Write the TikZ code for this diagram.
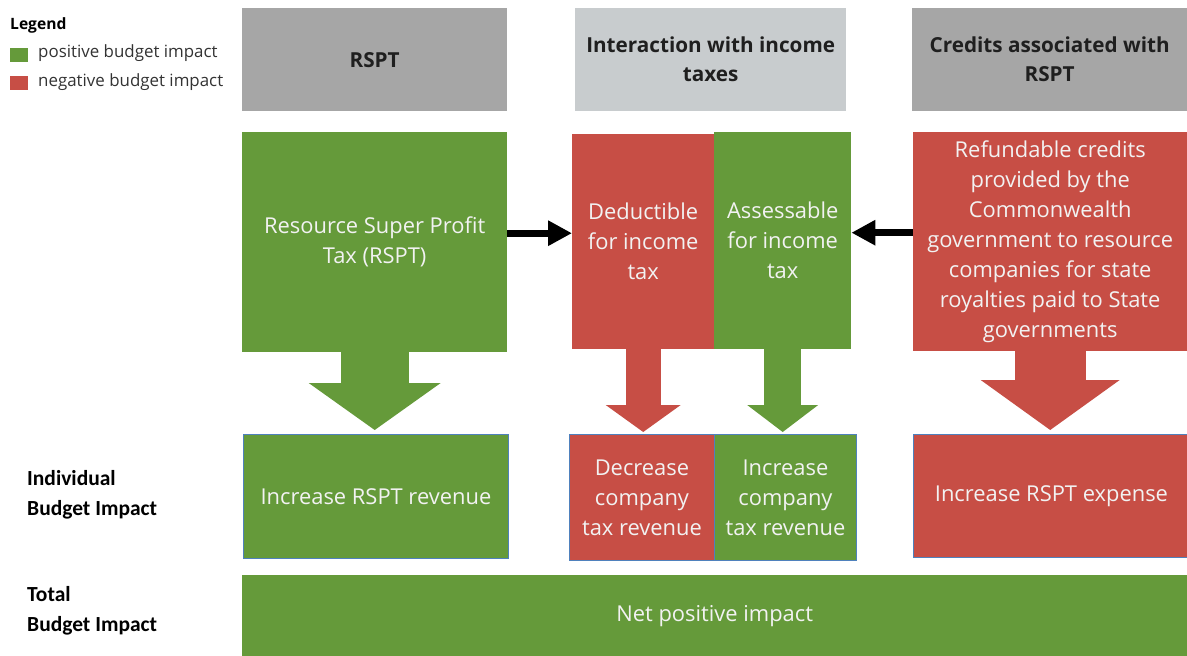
\documentclass[tikz,border=0pt]{standalone}
\usepackage{fontspec}
\setmainfont{Carlito}
\newfontfamily\boxfont{Open Sans}
\usetikzlibrary{arrows.meta}
\definecolor{posgreen}{HTML}{659A3A}
\definecolor{negred}{HTML}{C74E45}
\definecolor{headgray}{HTML}{A6A6A6}
\definecolor{palegray}{HTML}{C8CCCE}
\definecolor{edgeblue}{HTML}{4F81BD}
\definecolor{boxtext}{HTML}{F2F2F2}
\begin{document}
\begin{tikzpicture}[x=1pt,y=-1pt]
      \tikzstyle{header} = [rectangle, anchor=north west, inner sep=0pt, minimum height=103pt, align=center, text=black!88, font=\boxfont\fontsize{20.7}{29}\selectfont\bfseries]
      \tikzstyle{callout} = [rectangle, anchor=north west, inner sep=0pt, align=center, text=boxtext, font=\boxfont\fontsize{21.9}{30}\selectfont]
      \tikzstyle{impact} = [callout, draw=edgeblue, line width=0.9pt]
      \tikzstyle{sidelabel} = [anchor=west, align=left, inner sep=0pt, font=\fontsize{21.5}{30}\selectfont\bfseries]
      \tikzstyle{legendbox} = [rectangle, inner sep=0pt, minimum width=18pt, minimum height=14pt]
      \tikzstyle{legendtext} = [anchor=west, inner sep=0pt, text=black!80, font=\boxfont\fontsize{16.9}{18}\selectfont]
      \tikzstyle{arrow} = [line width=7pt, -{Triangle[length=24pt,width=24pt]}]

      \useasboundingbox (0,0) rectangle (1187,656);

      % legend
      \node (legend) [anchor=west, inner sep=0pt, font=\boxfont\fontsize{15.6}{17}\selectfont\bfseries] at (10,25) {Legend};
      \node (posbox) [legendbox, fill=posgreen] at (19,55) {};
      \node (negbox) [legendbox, fill=negred] at (19,83) {};
      \node (postext) [legendtext] at (38,53) {positive budget impact};
      \node (negtext) [legendtext] at (38,82) {negative budget impact};

      % column headers
      \node (hrspt) [header, fill=headgray, minimum width=265pt] at (242,8) {RSPT};
      \node (hinter) [header, fill=palegray, minimum width=271pt] at (575,8) {Interaction with income\\taxes};
      \node (hcredit) [header, fill=headgray, minimum width=275pt] at (912,8) {Credits associated with\\RSPT};

      % callouts
      \node (rspt) [callout, fill=posgreen, minimum width=265pt, minimum height=220pt] at (242,132) {Resource Super Profit\\Tax (RSPT)};
      \node (ded) [callout, fill=negred, minimum width=142pt, minimum height=215pt] at (572,134) {Deductible\\for income\\tax};
      \node (assess) [callout, fill=posgreen, minimum width=137pt, minimum height=217pt] at (714,132) {Assessable\\for income\\tax};
      \node (refund) [callout, fill=negred, minimum width=274pt, minimum height=219pt] at (913,132) {Refundable credits\\provided by the\\Commonwealth\\government to resource\\companies for state\\royalties paid to State\\governments};

      % individual impacts
      \node (rsptrev) [impact, fill=posgreen, minimum width=265pt, minimum height=124pt] at (243,434) {Increase RSPT revenue};
      \node (decrev) [impact, fill=negred, minimum width=145pt, minimum height=126pt] at (569,434) {Decrease\\company\\tax revenue};
      \node (increv) [impact, fill=posgreen, minimum width=142pt, minimum height=126pt] at (714,434) {Increase\\company\\tax revenue};
      \node (rsptexp) [impact, fill=negred, minimum width=276pt, minimum height=123pt] at (913,434) {Increase RSPT expense};

      % total
      \node (total) [callout, fill=posgreen, minimum width=945pt, minimum height=81pt] at (242,575) {Net positive impact};

      \node (indiv) [sidelabel] at (27,495) {Individual\\Budget Impact};
      \node (totlabel) [sidelabel] at (27,611) {Total\\Budget Impact};

      % callout stems
      \draw [posgreen, line width=68pt, -{Triangle[length=47pt,width=132pt,line width=0pt]}, shorten >=4pt] (rspt.south) -- (rspt.south |- rsptrev.north);
      \draw [negred, line width=35pt, -{Triangle[length=27pt,width=75pt,line width=0pt]}, shorten >=2pt] (ded.south) -- (ded.south |- decrev.north);
      \draw [posgreen, line width=37pt, -{Triangle[length=27pt,width=71pt,line width=0pt]}, shorten >=2pt] (assess.south) -- (assess.south |- increv.north);
      \draw [negred, line width=71pt, -{Triangle[length=50pt,width=139pt,line width=0pt]}, shorten >=4pt] (refund.south) -- (refund.south |- rsptexp.north);

      \draw [arrow] ([yshift=9pt]rspt.east) -- ([yshift=9pt]rspt.east -| ded.west);
      \draw [arrow] ([yshift=9pt]refund.west) -- ([yshift=9pt]refund.west -| assess.east);
\end{tikzpicture}
\end{document}
